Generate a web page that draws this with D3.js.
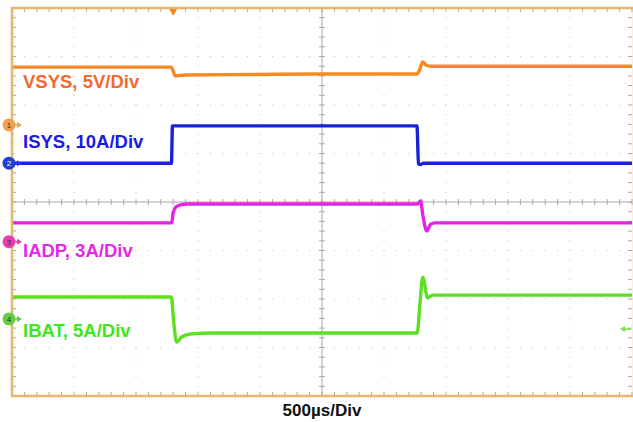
<!DOCTYPE html>
<html><head><meta charset="utf-8">
<script src="https://cdn.jsdelivr.net/npm/d3@7"></script>
<style>
html,body{margin:0;padding:0;background:#fff;}
svg{display:block;font-family:"Liberation Sans",Arial,sans-serif;}
</style></head>
<body><svg id="c" width="633" height="422"></svg>
<script>
// Time axis in µs (500 µs/div, 10 divisions), vertical in divisions (-4..4)
const timeDomain = [-2500, 2500];
const divDomain = [-4, 4];
const timeLabel = "500µs/Div";

const vsysT = [-2500, -1215, -1200, -1185, -1100, -500, 0, 500, 765, 790, 812, 840, 880, 1500, 2500];
const vsysV = [2.78, 2.78, 2.70, 2.60, 2.62, 2.63, 2.64, 2.64, 2.64, 2.74, 2.89, 2.82, 2.80, 2.80, 2.80];

const isysT = [-2500, -1214, -1206, 766, 778, 792, 820, 2500];
const isysV = [0.80, 0.80, 1.57, 1.57, 0.79, 0.77, 0.80, 0.80];

const iadpT = [-2500, -1212, -1200, -1180, -1140, -1080, -900, 770, 795, 815, 845, 875, 910, 2500];
const iadpV = [-0.43, -0.43, -0.22, -0.11, -0.06, -0.04, -0.04, -0.04, 0.02, -0.30, -0.60, -0.46, -0.43, -0.43];

const ibatT = [-2500, -1215, -1195, -1172, -1130, -1050, -900, 768, 790, 812, 852, 890, 2500];
const ibatV = [-1.96, -1.96, -2.50, -2.89, -2.78, -2.72, -2.70, -2.70, -2.10, -1.55, -1.98, -1.92, -1.92];

const seriesNames = ["VSYS, 5V/Div", "ISYS, 10A/Div", "IADP, 3A/Div", "IBAT, 5A/Div"];
const channelLevels = [1.59, 0.80, -0.82, -2.41];   // left channel markers (div)
const triggerTime = -1200;
const triggerLevel = -2.62;

const traceColors = ["#f48a22", "#1a22d8", "#e424e4", "#5ee022"];
const labelColors = ["#f26a30", "#1a1ae0", "#e428e4", "#3ee61a"];
const markerColors = ["#f0a050", "#2340d0", "#e83cb0", "#66cc44"];

const svg = d3.select("#c");
const X0 = 12, X1 = 632, Y0 = 8, Y1 = 396;
const x = d3.scaleLinear().domain(timeDomain).range([X0, X1]);
const y = d3.scaleLinear().domain(divDomain).range([Y1, Y0]);

const g = svg.append("g");
const grid = g.append("g");
const dotC = "#c0c0c0";
// dotted grid lines
for (let k = 1; k < 10; k++) {
  const tx = timeDomain[0] + k * 500;
  if (k === 5) continue;
  for (let m = 0; m <= 40; m++) {
    const vy = -4 + m * 0.2;
    grid.append("rect").attr("x", x(tx) - 0.5).attr("y", y(vy) - 0.5).attr("width", 1).attr("height", 1).attr("fill", dotC);
  }
}
for (let k = 1; k < 8; k++) {
  const vy = -4 + k;
  if (k === 4) continue;
  for (let m = 0; m <= 50; m++) {
    const tx = timeDomain[0] + m * 100;
    grid.append("rect").attr("x", x(tx) - 0.5).attr("y", y(vy) - 0.5).attr("width", 1).attr("height", 1).attr("fill", dotC);
  }
}
// center axes with ticks
grid.append("line").attr("x1", X0).attr("x2", X1).attr("y1", y(0)).attr("y2", y(0)).attr("stroke", "#a8a8a8").attr("stroke-width", 1);
grid.append("line").attr("x1", x(0)).attr("x2", x(0)).attr("y1", Y0).attr("y2", Y1).attr("stroke", "#a8a8a8").attr("stroke-width", 1);
for (let m = 0; m <= 50; m++) {
  const px = x(timeDomain[0] + m * 100);
  grid.append("line").attr("x1", px).attr("x2", px).attr("y1", y(0) - 3).attr("y2", y(0) + 3).attr("stroke", "#a8a8a8");
  grid.append("line").attr("x1", px).attr("x2", px).attr("y1", Y0).attr("y2", Y0 + 4).attr("stroke", "#a8a8a8");
  grid.append("line").attr("x1", px).attr("x2", px).attr("y1", Y1 - 4).attr("y2", Y1).attr("stroke", "#a8a8a8");
}
for (let m = 0; m <= 40; m++) {
  const py = y(-4 + m * 0.2);
  grid.append("line").attr("x1", x(0) - 3).attr("x2", x(0) + 3).attr("y1", py).attr("y2", py).attr("stroke", "#a8a8a8");
  grid.append("line").attr("x1", X0).attr("x2", X0 + 4).attr("y1", py).attr("y2", py).attr("stroke", "#a8a8a8");
  grid.append("line").attr("x1", X1 - 4).attr("x2", X1).attr("y1", py).attr("y2", py).attr("stroke", "#a8a8a8");
}
// ISYS label background box
g.append("rect").attr("x", 14).attr("y", 130).attr("width", 154).attr("height", 28).attr("fill", "#fff");

// traces
const series = [[vsysT, vsysV], [isysT, isysV], [iadpT, iadpV], [ibatT, ibatV]];
const line = d3.line().x(d => x(d[0])).y(d => y(d[1])).curve(d3.curveMonotoneX);
series.forEach((s, i) => {
  const pts = s[0].map((t, j) => [t, s[1][j]]);
  g.append("path").attr("d", line(pts)).attr("fill", "none")
    .attr("stroke", traceColors[i]).attr("stroke-width", 3.4).attr("stroke-linejoin", "round");
});

// labels
const labelY = [88, 148, 257, 337];
seriesNames.forEach((n, i) => {
  g.append("text").attr("x", 23).attr("y", labelY[i]).attr("fill", labelColors[i])
    .attr("font-size", 18.5).attr("font-weight", "bold").text(n);
});

// frame
g.append("rect").attr("x", X0).attr("y", Y0).attr("width", X1 - X0 + 2).attr("height", Y1 - Y0)
  .attr("fill", "none").attr("stroke", "#e8b56c").attr("stroke-width", 2.5);

// trigger marker (top)
const tx0 = x(triggerTime);
g.append("path").attr("d", `M${tx0 - 4},${Y0 + 1}L${tx0 + 4},${Y0 + 1}L${tx0},${Y0 + 8}Z`).attr("fill", "#f48a22");
// trigger level arrow (right)
const ty0 = y(triggerLevel);
g.append("line").attr("x1", X1 - 8).attr("x2", X1 - 1).attr("y1", ty0).attr("y2", ty0).attr("stroke", "#7ee050").attr("stroke-width", 1.5);
g.append("path").attr("d", `M${X1 - 12},${ty0}L${X1 - 7},${ty0 - 3}L${X1 - 7},${ty0 + 3}Z`).attr("fill", "#7ee050");

// channel markers (left)
channelLevels.forEach((lv, i) => {
  const cy = y(lv);
  g.append("line").attr("x1", 12).attr("x2", 19).attr("y1", cy).attr("y2", cy).attr("stroke", markerColors[i]).attr("stroke-width", 1.5);
  g.append("path").attr("d", `M${22},${cy}L${17},${cy - 3}L${17},${cy + 3}Z`).attr("fill", markerColors[i]);
  g.append("circle").attr("cx", 9).attr("cy", cy).attr("r", 6.5).attr("fill", markerColors[i]);
  g.append("text").attr("x", 9).attr("y", cy + 3).attr("text-anchor", "middle").attr("font-size", 8)
    .attr("fill", i === 1 ? "#fff" : "#333").text(i + 1);
});

// x label
svg.append("text").attr("x", x(0)).attr("y", 416).attr("text-anchor", "middle")
  .attr("font-size", 17).attr("font-weight", "bold").attr("fill", "#111").text(timeLabel);
</script></body></html>
